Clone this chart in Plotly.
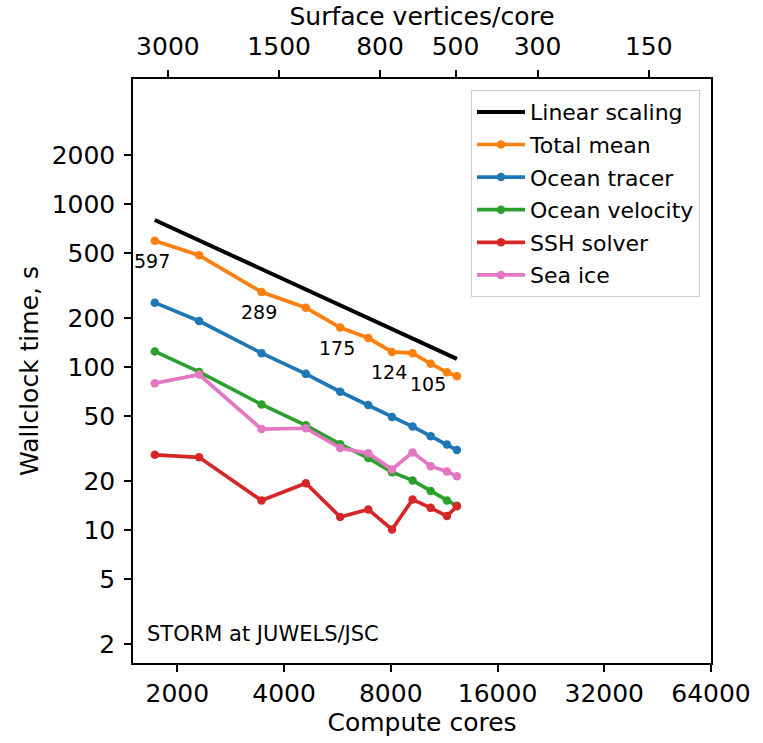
import numpy as np
import plotly.graph_objects as go

# ---- data ----
cores = [1728, 2304, 3456, 4608, 5760, 6912, 8064, 9216, 10368, 11520, 12288]
total_mean = [597, 486, 289, 232, 175, 151, 124, 122, 105, 93, 88]
ocean_tracer = [249, 192, 122, 91, 70.7, 58.6, 49.4, 43.2, 37.7, 33.5, 31.0]
ocean_velocity = [125, 93.6, 59.1, 44.0, 33.7, 27.7, 22.7, 20.2, 17.4, 15.2, 14.1]
ssh_solver = [29.0, 28.0, 15.2, 19.4, 12.05, 13.4, 10.1, 15.4, 13.7, 12.2, 14.0]
sea_ice = [79.7, 90.1, 41.7, 42.2, 31.9, 29.6, 23.6, 30.0, 24.7, 22.9, 21.4]
linear_start = 800  # linear scaling reference at first core count
labelled_idx = [0, 2, 4, 6, 8]

x_ticks = [2000, 4000, 8000, 16000, 32000, 64000]
y_ticks = [2, 5, 10, 20, 50, 100, 200, 500, 1000, 2000]
top_ticks = [3000, 1500, 800, 500, 300, 150]
x_range = [1500, 64000]
y_range = [1.53, 5870]
top_range = [3728, 101.8]

linear = [linear_start * cores[0] / c for c in cores]

FONT = "DejaVu Sans"
fig = go.Figure()

fig.add_trace(go.Scatter(x=[cores[0], cores[-1]], y=[linear[0], linear[-1]],
                         mode="lines", name="Linear scaling",
                         line=dict(color="black", width=4), legendgroup="a"))
series = [("Total mean", total_mean, "#ff7f0e"),
          ("Ocean tracer", ocean_tracer, "#1f77b4"),
          ("Ocean velocity", ocean_velocity, "#2ca02c"),
          ("SSH solver", ssh_solver, "#d62728"),
          ("Sea ice", sea_ice, "#e377c2")]
for i, (name, vals, col) in enumerate(series):
    fig.add_trace(go.Scatter(x=cores, y=vals, mode="lines+markers", name=name,
                             line=dict(color=col, width=3.7),
                             marker=dict(color=col, size=8.5),
                             legendgroup="g%d" % i))

# dummy trace for the top axis
fig.add_trace(go.Scatter(x=top_ticks, y=[None] * len(top_ticks), xaxis="x2",
                         mode="markers", showlegend=False, hoverinfo="skip"))

for i in labelled_idx:
    fig.add_annotation(x=np.log10(cores[i]), y=np.log10(total_mean[i]),
                       text=str(total_mean[i]), showarrow=False,
                       xshift=-3, yshift=-20,
                       font=dict(family=FONT, size=19, color="black"))

fig.add_annotation(x=0.02, y=0.049, xref="paper", yref="paper",
                   text="STORM at JUWELS/JSC", showarrow=False,
                   xanchor="left", yanchor="middle",
                   font=dict(family=FONT, size=21, color="black"))

axis_common = dict(showline=True, linecolor="black", linewidth=1.5,
                   ticks="outside", ticklen=7, tickwidth=1.5, tickcolor="black",
                   showgrid=False, zeroline=False,
                   tickfont=dict(family=FONT, size=25, color="black"))

fig.update_layout(
    width=763, height=743,
    margin=dict(l=133, r=45, t=79, b=76),
    paper_bgcolor="white", plot_bgcolor="white",
    font=dict(family=FONT, color="black"),
    xaxis=dict(type="log", range=[np.log10(x_range[0]), np.log10(x_range[1])],
               tickvals=x_ticks, ticktext=[str(t) for t in x_ticks],
               mirror=True,
               title=dict(text="Compute cores", font=dict(family=FONT, size=25), standoff=6),
               **axis_common),
    xaxis2=dict(type="log", overlaying="x", side="top", anchor="y",
                range=[np.log10(top_range[0]), np.log10(top_range[1])],
                tickvals=top_ticks, ticktext=[str(t) for t in top_ticks],
                ticklabelstandoff=5,
                title=dict(text="Surface vertices/core", font=dict(family=FONT, size=25), standoff=0),
                **axis_common),
    yaxis=dict(type="log", range=[np.log10(y_range[0]), np.log10(y_range[1])],
               tickvals=y_ticks, ticktext=[str(t) for t in y_ticks],
               mirror=True, ticklabelstandoff=4,
               title=dict(text="Wallclock time, s", font=dict(family=FONT, size=25), standoff=6),
               **axis_common),
    legend=dict(x=0.981, y=0.981, xanchor="right", yanchor="top",
                bordercolor="#cccccc", borderwidth=1, bgcolor="rgba(255,255,255,0.8)",
                font=dict(family=FONT, size=22, color="black"),
                itemwidth=48, tracegroupgap=1),
)

fig.write_html("out.html", config={"displayModeBar": False},
               post_script="document.body.style.margin='0px';")
